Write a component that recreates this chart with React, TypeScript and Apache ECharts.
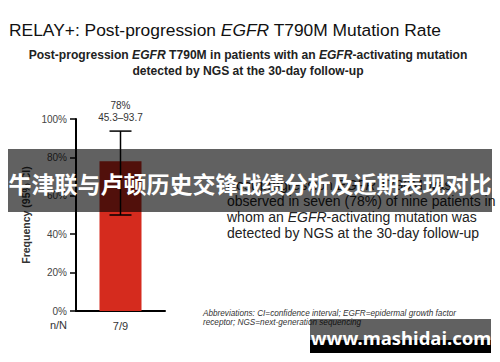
import React, { useEffect, useRef } from "react";
import * as echarts from "echarts";

const categories = ["7/9"];
const frequency = [78];
const ciLow = [50];
const ciHigh = [93.7];
const valueLabels = ["78%"];
const ciLabels = ["45.3–93.7"];

const titleText = "RELAY+: Post-progression {i|EGFR} T790M Mutation Rate";
const subtitleLines = [
  "Post-progression {i|EGFR} T790M in patients with an {i|EGFR}-activating mutation",
  "detected by NGS at the 30-day follow-up",
];
const noteLines = [
  "Post-progression {i|EGFR} T790M was",
  "observed in seven (78%) of nine patients in",
  "whom an {i|EGFR}-activating mutation was",
  "detected by NGS at the 30-day follow-up",
];
const abbrevLines = [
  "Abbreviations: CI=confidence interval; EGFR=epidermal growth factor",
  "receptor; NGS=next-generation sequencing",
];
const bannerText = "牛津联与卢顿历史交锋战绩分析及近期表现对比";
const watermarkText = "www.mashidai.com";

const FONT = "Liberation Sans, Arial, sans-serif";

export default function App() {
  const ref = useRef<HTMLDivElement>(null);
  useEffect(() => {
    if (!ref.current) return;
    const chart = echarts.init(ref.current, undefined, { renderer: "svg" });
    const errData = categories.map((c, i) => [i, ciLow[i], ciHigh[i]]);
    const option: any = {
      animation: false,
      backgroundColor: "#ffffff",
      grid: { left: 76, top: 119, width: 89, height: 192, containLabel: false },
      xAxis: {
        type: "category",
        data: categories,
        axisLine: { lineStyle: { color: "#000", width: 2 } },
        axisTick: { show: false },
        axisLabel: { color: "#333", fontSize: 11, fontFamily: FONT, margin: 9 },
      },
      yAxis: {
        type: "value",
        min: 0,
        max: 100,
        interval: 20,
        name: "Frequency (95% CI)",
        nameLocation: "middle",
        nameGap: 45,
        nameRotate: 90,
        nameTextStyle: { color: "#333", fontSize: 10.5, fontWeight: "bold", fontFamily: FONT },
        splitLine: { show: false },
        axisLine: { show: true, lineStyle: { color: "#000", width: 2 } },
        axisTick: { show: true, length: 6, lineStyle: { color: "#000", width: 1.5 } },
        axisLabel: { formatter: "{value}%", color: "#444", fontSize: 10, fontFamily: FONT, margin: 9 },
      },
      series: [
        {
          type: "bar",
          data: frequency,
          barWidth: 42,
          itemStyle: { color: "#d52b1e" },
        },
        {
          type: "custom",
          data: errData,
          z: 5,
          renderItem: (params: any, api: any) => {
            const x = api.value(0);
            const lo = api.coord([x, api.value(1)]);
            const hi = api.coord([x, api.value(2)]);
            const half = 11;
            const idx = params.dataIndex;
            const style = { stroke: "#000", lineWidth: 1.5 };
            return {
              type: "group",
              children: [
                { type: "line", shape: { x1: lo[0], y1: lo[1], x2: hi[0], y2: hi[1] }, style },
                { type: "line", shape: { x1: hi[0] - half, y1: hi[1], x2: hi[0] + half, y2: hi[1] }, style },
                { type: "line", shape: { x1: lo[0] - half, y1: lo[1], x2: lo[0] + half, y2: lo[1] }, style },
                {
                  type: "text",
                  x: hi[0],
                  y: hi[1] - 26,
                  style: { text: valueLabels[idx], fill: "#333", fontSize: 10, fontFamily: FONT, align: "center", verticalAlign: "middle" },
                },
                {
                  type: "text",
                  x: hi[0],
                  y: hi[1] - 14,
                  style: { text: ciLabels[idx], fill: "#333", fontSize: 10, fontFamily: FONT, align: "center", verticalAlign: "middle" },
                },
              ],
            };
          },
        },
      ],
      graphic: [
        {
          type: "text",
          left: 9,
          top: 21,
          style: {
            text: titleText,
            fill: "#111",
            fontSize: 17.4,
            fontFamily: FONT,
            rich: { i: { fontStyle: "italic", fontSize: 17.4, fontFamily: FONT, fill: "#111" } },
          },
        },
        ...subtitleLines.map((t, k) => ({
          type: "text",
          x: 248,
          y: 55 + k * 15.5,
          style: {
            text: t,
            fill: "#222",
            fontSize: 12.1,
            fontWeight: "bold",
            fontFamily: FONT,
            align: "center",
            verticalAlign: "middle",
            rich: { i: { fontStyle: "italic", fontWeight: "bold", fontSize: 12.1, fontFamily: FONT, fill: "#222" } },
          },
        })),
        ...noteLines.map((t, k) => ({
          type: "text",
          x: 227,
          y: 185 + k * 16,
          style: {
            text: t,
            fill: "#222",
            fontSize: 14,
            fontFamily: FONT,
            verticalAlign: "middle",
            rich: { i: { fontStyle: "italic", fontSize: 14, fontFamily: FONT, fill: "#222" } },
          },
        })),
        ...abbrevLines.map((t, k) => ({
          type: "text",
          x: 203,
          y: 313 + k * 9.5,
          style: { text: t, fill: "#333", fontSize: 8.2, fontStyle: "italic", fontFamily: FONT, verticalAlign: "middle" },
        })),
        {
          type: "text",
          x: 67,
          y: 325,
          style: { text: "n/N", fill: "#333", fontSize: 11, fontFamily: FONT, align: "right", verticalAlign: "middle" },
        },
        {
          type: "rect",
          z: 100,
          shape: { x: 8, y: 149, width: 484, height: 63 },
          style: { fill: "rgba(0,0,0,0.62)" },
        },
        {
          type: "text",
          z: 101,
          x: 250,
          y: 183,
          style: {
            text: bannerText,
            fill: "#fff",
            fontSize: 23,
            fontWeight: "bold",
            fontFamily: "Noto Sans CJK SC",
            align: "center",
            verticalAlign: "middle",
          },
        },
        {
          type: "rect",
          z: 100,
          shape: { x: 310, y: 319, width: 181, height: 21 },
          style: { fill: "rgba(0,0,0,0.62)" },
        },
        {
          type: "rect",
          z: 100,
          shape: { x: 310, y: 340, width: 181, height: 13 },
          style: { fill: "#000" },
        },
        {
          type: "text",
          z: 101,
          x: 401,
          y: 337,
          style: {
            text: watermarkText,
            fill: "#fff",
            fontSize: 18.5,
            fontWeight: "bold",
            fontFamily: "Noto Sans, DejaVu Sans, sans-serif",
            align: "center",
            verticalAlign: "middle",
          },
        },
      ],
    };
    chart.setOption(option);
    return () => chart.dispose();
  }, []);
  return (
    <div
      ref={ref}
      style={{ position: "fixed", left: 0, top: 0, width: 500, height: 362, background: "#fff" }}
    />
  );
}
